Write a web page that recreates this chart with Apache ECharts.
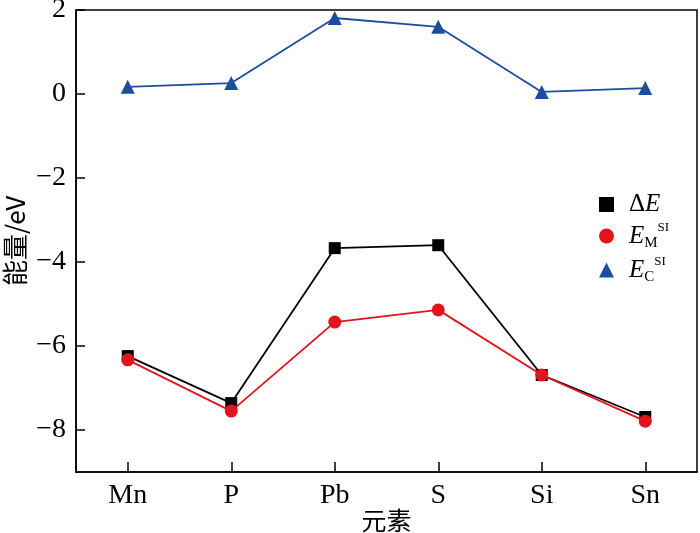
<!DOCTYPE html>
<html>
<head>
<meta charset="utf-8">
<script src="https://cdn.jsdelivr.net/npm/echarts@6/dist/echarts.min.js"></script>
<style>
html, body { margin: 0; padding: 0; background: #fff; }
#main { width: 700px; height: 533px; }
</style>
</head>
<body>
<div id="main"></div>
<script>
var elements = ['Mn', 'P', 'Pb', 'S', 'Si', 'Sn'];
var deltaE = [-6.24, -7.36, -3.67, -3.6, -6.69, -7.69];
var eM = [-6.33, -7.55, -5.43, -5.14, -6.69, -7.79];
var eC = [0.17, 0.26, 1.81, 1.6, 0.05, 0.14];
var yTicks = [-8, -6, -4, -2, 0, 2];

var serif = 'Liberation Serif';
var cjk = 'Noto Sans CJK SC';

var myChart = echarts.init(document.getElementById('main'));

var option = {
    backgroundColor: '#fff',
    animation: false,
    grid: {
        left: 76,
        right: 3,
        top: 10,
        bottom: 61,
        outerBoundsMode: 'none',
        containLabel: false,
        show: true,
        borderColor: '#000',
        borderWidth: 1.5
    },
    legend: {
        orient: 'vertical',
        left: 594,
        top: 187,
        itemWidth: 15,
        itemHeight: 15,
        itemGap: 4,
        data: [
            { name: 'dE', icon: 'rect' },
            { name: 'EM', icon: 'circle' },
            { name: 'EC', icon: 'triangle' }
        ],
        formatter: function(name) {
            if (name == 'dE') return '{d|Δ}{e|E}';
            if (name == 'EM') return '{e|E}{sub|M}{sup|SI}';
            return '{e|E}{sub|C}{sup|SI}';
        },
        textStyle: {
            padding: [0, 0, 0, 10],
            rich: {
                d: { fontFamily: serif, fontSize: 25, color: '#000', lineHeight: 30, verticalAlign: 'middle' },
                e: { fontFamily: serif, fontStyle: 'italic', fontSize: 25, color: '#000', lineHeight: 30, verticalAlign: 'middle' },
                sub: { fontFamily: serif, fontSize: 15, color: '#000', lineHeight: 30, verticalAlign: 'bottom' },
                sup: { fontFamily: serif, fontSize: 13, color: '#000', lineHeight: 30, verticalAlign: 'top' }
            }
        }
    },
    xAxis: {
        type: 'category',
        data: elements,
        boundaryGap: true,
        name: '元素',
        nameLocation: 'middle',
        nameGap: 36,
        nameMoveOverlap: false,
        nameTextStyle: { fontFamily: cjk, fontSize: 25, color: '#000' },
        axisLine: { onZero: false, lineStyle: { color: '#000', width: 1.5 } },
        axisTick: { show: true, inside: true, length: 10, alignWithLabel: true, lineStyle: { color: '#000', width: 1.5 } },
        axisLabel: { fontFamily: serif, fontSize: 28, color: '#000', margin: 10 },
        splitLine: { show: false }
    },
    yAxis: {
        type: 'value',
        min: -9,
        max: 2,
        interval: 1,
        name: '能量/eV',
        nameLocation: 'middle',
        nameGap: 48,
        nameMoveOverlap: false,
        nameTextStyle: { fontFamily: cjk, fontSize: 26, color: '#000' },
        axisLine: { show: true, lineStyle: { color: '#000', width: 1.5 } },
        axisTick: {
            show: true,
            inside: true,
            length: 9,
            lineStyle: { color: '#000', width: 1.5 },
            customValues: yTicks
        },
        axisLabel: {
            fontFamily: serif,
            fontSize: 28,
            color: '#000',
            margin: 10,
            customValues: yTicks,
            formatter: function(v) {
                return v < 0 ? '\u2212' + Math.abs(v) : String(v);
            }
        },
        splitLine: { show: false }
    },
    series: [{
        name: 'dE',
        type: 'line',
        data: deltaE,
        symbol: 'rect',
        symbolSize: 12,
        itemStyle: { color: '#000' },
        lineStyle: { color: '#000', width: 1.8 },
        z: 2
    }, {
        name: 'EM',
        type: 'line',
        data: eM,
        symbol: 'circle',
        symbolSize: 13,
        itemStyle: { color: '#e3141d' },
        lineStyle: { color: '#e3141d', width: 1.8 },
        z: 3
    }, {
        name: 'EC',
        type: 'line',
        data: eC,
        symbol: 'triangle',
        symbolSize: 14,
        itemStyle: { color: '#1d4d9f' },
        lineStyle: { color: '#1d4d9f', width: 1.8 },
        z: 4
    }]
};

myChart.setOption(option);

window.onresize = function() {
    myChart.resize();
}
</script>
</body>
</html>
